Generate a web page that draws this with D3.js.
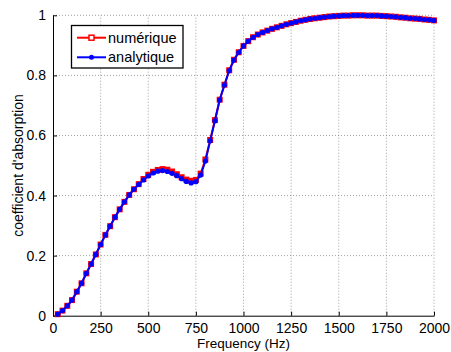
<!DOCTYPE html>
<html><head><meta charset="utf-8">
<script src="https://cdn.jsdelivr.net/npm/d3@7"></script>
<style>body{margin:0;background:#fff}svg{display:block}text{font-family:"Liberation Sans",Arial,Helvetica,sans-serif;fill:#000}</style>
</head><body><div id="chart"></div>
<script>
const frequencies = [25,50,75,100,125,150,175,200,225,250,275,300,325,350,375,400,425,450,475,500,525,550,575,600,625,650,675,700,725,750,775,800,825,850,875,900,925,950,975,1000,1025,1050,1075,1100,1125,1150,1175,1200,1225,1250,1275,1300,1325,1350,1375,1400,1425,1450,1475,1500,1525,1550,1575,1600,1625,1650,1675,1700,1725,1750,1775,1800,1825,1850,1875,1900,1925,1950,1975,2000];
const analytique = [0.005,0.017,0.033,0.052,0.080,0.108,0.141,0.172,0.204,0.237,0.269,0.298,0.328,0.354,0.379,0.402,0.421,0.437,0.452,0.465,0.475,0.481,0.483,0.480,0.474,0.466,0.456,0.447,0.442,0.446,0.468,0.515,0.582,0.649,0.718,0.768,0.816,0.851,0.877,0.898,0.914,0.927,0.936,0.943,0.949,0.955,0.960,0.965,0.970,0.974,0.978,0.982,0.985,0.988,0.990,0.992,0.994,0.996,0.997,0.998,0.999,0.999,1.000,1.000,1.000,0.999,0.999,0.999,0.998,0.997,0.996,0.995,0.993,0.992,0.990,0.989,0.988,0.986,0.985,0.983];
const numerique = [0.005,0.017,0.033,0.052,0.080,0.108,0.141,0.172,0.204,0.237,0.269,0.298,0.328,0.354,0.379,0.402,0.421,0.438,0.455,0.469,0.479,0.485,0.488,0.486,0.480,0.471,0.461,0.453,0.449,0.452,0.473,0.520,0.585,0.651,0.719,0.769,0.817,0.852,0.877,0.898,0.914,0.927,0.936,0.943,0.949,0.955,0.960,0.965,0.970,0.974,0.978,0.982,0.985,0.988,0.990,0.992,0.994,0.996,0.997,0.998,0.999,0.999,1.000,1.000,1.000,0.999,0.999,0.999,0.998,0.997,0.996,0.995,0.993,0.992,0.990,0.989,0.988,0.986,0.985,0.983];
const xTicks = [0,250,500,750,1000,1250,1500,1750,2000];
const yTicks = [0,0.2,0.4,0.6,0.8,1];
const seriesNames = ["numérique","analytique"];
const seriesColors = ["#ff0000","#0000ff"];

const W=451,H=352, L=53, R=434, T=15.3, B=315.7;
const svg=d3.select("#chart").append("svg").attr("width",W).attr("height",H);
const x=d3.scaleLinear().domain([0,2000]).range([L,R]);
const y=d3.scaleLinear().domain([0,1]).range([B,T]);

// grid
const grid=svg.append("g").attr("stroke","#888").attr("stroke-width",0.8).attr("stroke-dasharray","1,2");
grid.selectAll(".gx").data(xTicks.filter(d=>d>0)).join("line").attr("x1",d=>x(d)).attr("x2",d=>x(d)).attr("y1",B).attr("y2",T);
grid.selectAll(".gy").data(yTicks.filter(d=>d>0)).join("line").attr("y1",d=>y(d)).attr("y2",d=>y(d)).attr("x1",L).attr("x2",R);

// axes
const xAxis=d3.axisBottom(x).tickValues(xTicks).tickSizeInner(-4).tickSizeOuter(0).tickPadding(7).tickFormat(d3.format("d"));
const gx=svg.append("g").attr("transform",`translate(0,${B})`).call(xAxis);
gx.select(".domain").attr("stroke","#000").attr("stroke-width",1);
gx.selectAll("text").attr("font-size",14).attr("font-family","Liberation Sans, Arial, sans-serif");
const yAxis=d3.axisLeft(y).tickValues(yTicks).tickSizeInner(-4).tickSizeOuter(0).tickPadding(7).tickFormat(d=>d===0||d===1?String(d):d3.format(".1f")(d));
const gy=svg.append("g").attr("transform",`translate(${L},0)`).call(yAxis);
gy.select(".domain").attr("stroke","#000").attr("stroke-width",1);
gy.selectAll("text").attr("font-size",14).attr("font-family","Liberation Sans, Arial, sans-serif");

// labels
svg.append("text").attr("x",(L+R)/2).attr("y",348).attr("text-anchor","middle").attr("font-size",13.5).text("Frequency (Hz)");
svg.append("text").attr("transform",`translate(23,${(T+B)/2}) rotate(-90)`).attr("text-anchor","middle").attr("font-size",14).text("coefficient d'absorption");

// series
const line=d3.line().x((d,i)=>x(frequencies[i])).y(d=>y(d));
svg.append("path").datum(numerique).attr("d",line).attr("fill","none").attr("stroke",seriesColors[0]).attr("stroke-width",2);
svg.append("g").selectAll("rect").data(numerique).join("rect")
  .attr("x",(d,i)=>x(frequencies[i])-3).attr("y",d=>y(d)-3).attr("width",6).attr("height",6)
  .attr("fill",seriesColors[0]);
svg.append("path").datum(analytique).attr("d",line).attr("fill","none").attr("stroke",seriesColors[1]).attr("stroke-width",2);
svg.append("g").selectAll("circle").data(analytique).join("circle")
  .attr("cx",(d,i)=>x(frequencies[i])).attr("cy",d=>y(d)).attr("r",2.6).attr("fill",seriesColors[1]);

// legend
const lg=svg.append("g");
lg.append("rect").attr("x",71.5).attr("y",25.5).attr("width",111.5).attr("height",42.5).attr("fill","#fff").attr("stroke","#000").attr("stroke-width",1.3);
const ly=[37.7,57.3];
seriesNames.forEach((n,i)=>{
  lg.append("line").attr("x1",77).attr("x2",106).attr("y1",ly[i]).attr("y2",ly[i]).attr("stroke",seriesColors[i]).attr("stroke-width",2);
  if(i===0) lg.append("rect").attr("x",89).attr("y",ly[i]-2.5).attr("width",5).attr("height",5).attr("fill","#fff").attr("stroke",seriesColors[i]).attr("stroke-width",1.5);
  else lg.append("circle").attr("cx",91.5).attr("cy",ly[i]).attr("r",2.5).attr("fill",seriesColors[i]);
  lg.append("text").attr("x",108).attr("y",ly[i]).attr("dy","0.35em").attr("font-size",14.5).text(n);
});
</script></body></html>
